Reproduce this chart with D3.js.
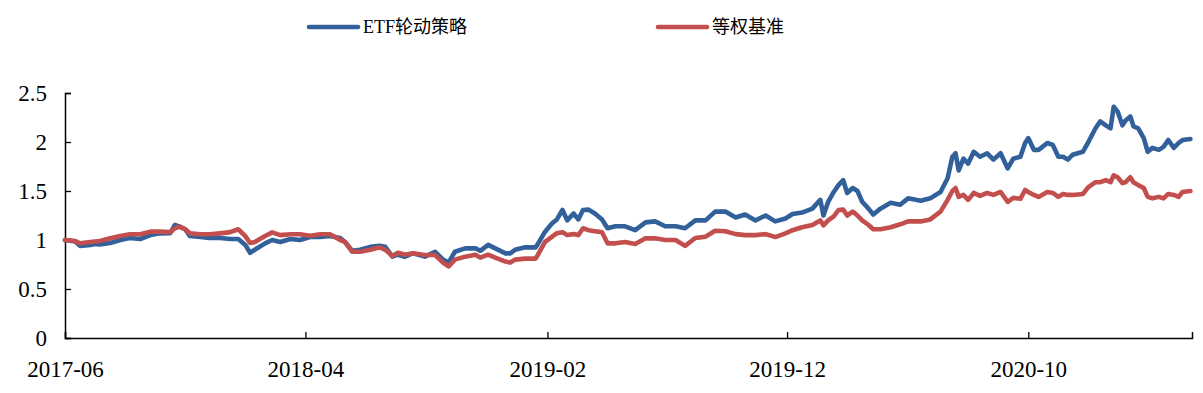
<!DOCTYPE html>
<html>
<head>
<meta charset="utf-8">
<script src="https://cdn.jsdelivr.net/npm/d3@7"></script>
<style>
  body { margin: 0; background: #fff; }
  svg { display: block; }
</style>
</head>
<body>
<script>
var dates = ["2017-06-01","2017-06-14","2017-06-20","2017-07-03","2017-07-09","2017-07-15","2017-07-28","2017-08-10","2017-08-22","2017-09-04",
  "2017-09-17","2017-09-29","2017-10-12","2017-10-18","2017-10-24","2017-10-31","2017-11-06","2017-11-19","2017-12-01","2017-12-14",
  "2017-12-27","2018-01-06","2018-01-15","2018-01-21","2018-01-27","2018-02-09","2018-02-18","2018-02-28","2018-03-13","2018-03-25",
  "2018-04-07","2018-04-20","2018-05-02","2018-05-15","2018-05-21","2018-05-30","2018-06-09","2018-06-22","2018-07-04","2018-07-11",
  "2018-07-20","2018-07-27","2018-08-05","2018-08-15","2018-08-30","2018-09-12","2018-09-22","2018-09-29","2018-10-07","2018-10-20",
  "2018-11-02","2018-11-08","2018-11-18","2018-11-27","2018-12-10","2018-12-16","2018-12-22","2019-01-04","2019-01-17","2019-01-20",
  "2019-01-29","2019-02-07","2019-02-13","2019-02-20","2019-02-26","2019-03-06","2019-03-12","2019-03-18","2019-03-25","2019-04-02",
  "2019-04-11","2019-04-18","2019-04-28","2019-05-10","2019-05-23","2019-06-05","2019-06-17","2019-06-30","2019-07-13","2019-07-25",
  "2019-08-07","2019-08-20","2019-09-01","2019-09-14","2019-09-27","2019-10-09","2019-10-22","2019-11-04","2019-11-16","2019-11-29",
  "2019-12-08","2019-12-20","2020-01-02","2020-01-12","2020-01-16","2020-01-22","2020-01-29","2020-02-04","2020-02-10","2020-02-15",
  "2020-02-22","2020-02-28","2020-03-05","2020-03-13","2020-03-19","2020-03-28","2020-04-10","2020-04-22","2020-05-02","2020-05-18",
  "2020-05-30","2020-06-12","2020-06-21","2020-06-27","2020-07-01","2020-07-05","2020-07-11","2020-07-17","2020-07-24","2020-08-01",
  "2020-08-10","2020-08-18","2020-08-27","2020-09-05","2020-09-12","2020-09-21","2020-09-27","2020-10-01","2020-10-08","2020-10-14",
  "2020-10-25","2020-11-01","2020-11-08","2020-11-14","2020-11-20","2020-11-26","2020-12-09","2020-12-16","2020-12-25","2020-12-31",
  "2021-01-07","2021-01-13","2021-01-17","2021-01-22","2021-01-28","2021-02-01","2021-02-07","2021-02-11","2021-02-17","2021-02-24",
  "2021-03-01","2021-03-07","2021-03-15","2021-03-21","2021-03-27","2021-04-03","2021-04-09","2021-04-14","2021-04-24"];

var etf = [1.00,0.985,0.94,0.95,0.96,0.955,0.97,1.00,1.02,1.01,
  1.05,1.068,1.07,1.153,1.136,1.11,1.04,1.03,1.02,1.02,
  1.01,1.01,0.95,0.87,0.90,0.966,1.00,0.98,1.01,1.00,
  1.03,1.03,1.04,1.02,0.98,0.89,0.90,0.93,0.94,0.93,
  0.83,0.85,0.83,0.865,0.83,0.88,0.80,0.77,0.88,0.915,
  0.915,0.89,0.95,0.915,0.864,0.864,0.90,0.925,0.925,0.96,
  1.085,1.17,1.21,1.306,1.20,1.27,1.21,1.306,1.31,1.27,
  1.21,1.12,1.14,1.14,1.10,1.18,1.19,1.14,1.14,1.12,
  1.20,1.20,1.29,1.29,1.23,1.26,1.20,1.25,1.19,1.22,
  1.265,1.28,1.32,1.41,1.25,1.39,1.49,1.56,1.61,1.48,
  1.53,1.50,1.39,1.32,1.26,1.32,1.38,1.36,1.425,1.40,
  1.425,1.49,1.63,1.85,1.885,1.71,1.83,1.78,1.90,1.85,
  1.885,1.82,1.885,1.73,1.83,1.85,1.99,2.04,1.92,1.92,
  1.99,1.97,1.85,1.85,1.82,1.87,1.90,2.00,2.14,2.21,
  2.17,2.14,2.36,2.31,2.17,2.22,2.26,2.16,2.14,2.04,
  1.90,1.94,1.92,1.95,2.02,1.94,1.99,2.02,2.03];

var bench = [1.00,0.99,0.966,0.98,0.985,0.99,1.017,1.04,1.058,1.058,
  1.085,1.085,1.08,1.12,1.136,1.11,1.068,1.058,1.058,1.068,
  1.08,1.11,1.04,0.97,0.98,1.04,1.078,1.05,1.058,1.058,
  1.044,1.058,1.058,1.00,0.98,0.88,0.88,0.90,0.925,0.90,
  0.837,0.87,0.85,0.865,0.847,0.847,0.77,0.73,0.80,0.83,
  0.85,0.82,0.85,0.82,0.78,0.77,0.80,0.81,0.81,0.85,
  0.98,1.034,1.07,1.08,1.05,1.06,1.05,1.12,1.10,1.09,
  1.08,0.966,0.966,0.98,0.96,1.017,1.017,1.00,1.00,0.94,
  1.02,1.034,1.095,1.09,1.06,1.05,1.05,1.06,1.03,1.068,
  1.10,1.13,1.153,1.20,1.15,1.20,1.24,1.306,1.31,1.25,
  1.29,1.25,1.20,1.153,1.11,1.11,1.13,1.16,1.19,1.19,
  1.21,1.29,1.41,1.50,1.53,1.44,1.46,1.41,1.48,1.45,
  1.48,1.46,1.49,1.39,1.43,1.42,1.51,1.49,1.46,1.44,
  1.49,1.48,1.44,1.47,1.46,1.46,1.47,1.54,1.59,1.59,
  1.61,1.59,1.66,1.64,1.58,1.59,1.64,1.59,1.56,1.53,
  1.44,1.425,1.44,1.425,1.47,1.46,1.44,1.49,1.50];

var seriesNames = ["ETF轮动策略", "等权基准"];
var seriesColors = ["#31609B", "#C24F4D"];
var xTicks = ["2017-06-01","2018-04-01","2019-02-01","2019-12-01","2020-10-01"];
var yTicks = [0, 0.5, 1, 1.5, 2, 2.5];

var width = 1203, height = 393;
var parse = d3.timeParse("%Y-%m-%d");

var svg = d3.select("body").append("svg")
  .attr("width", width).attr("height", height);

var x = d3.scaleTime()
  .domain([parse("2017-06-01"), parse("2021-04-26")])
  .range([65, 1192]);
var y = d3.scaleLinear().domain([0, 2.5]).range([338, 93]);

var fontFamily = "'Liberation Serif', 'Times New Roman', serif";

// y axis, ticks point into the plot
var yAxis = svg.append("g")
  .attr("transform", "translate(65,0)")
  .call(d3.axisRight(y).tickValues(yTicks).tickSize(6).tickFormat(function(d){ return String(d); }));
yAxis.selectAll("text").attr("x", -18).attr("text-anchor", "end");

// x axis
var xAxis = svg.append("g")
  .attr("transform", "translate(0,338)")
  .call(d3.axisTop(x).tickValues(xTicks.map(parse)).tickSize(6).tickFormat(d3.timeFormat("%Y-%m")));
xAxis.selectAll("text").attr("y", 32).attr("dy", "0.32em");

svg.selectAll(".domain").attr("stroke", "#000").attr("stroke-width", 1.5);
svg.selectAll(".tick line").attr("stroke", "#000").attr("stroke-width", 1.3);
svg.selectAll(".tick text")
  .attr("fill", "#000")
  .style("font-family", fontFamily)
  .style("font-size", "23px");

var line = d3.line()
  .x(function(d){ return x(d.date); })
  .y(function(d){ return y(d.value); });

[etf, bench].forEach(function(vals, i){
  var data = vals.map(function(v, j){ return {date: parse(dates[j]), value: v}; });
  svg.append("path")
    .datum(data)
    .attr("fill", "none")
    .attr("stroke", seriesColors[i])
    .attr("stroke-width", 4.6)
    .attr("stroke-linejoin", "round")
    .attr("stroke-linecap", "round")
    .attr("d", line);
});

// legend
var legendX = [309, 658];
var legend = svg.append("g");
seriesNames.forEach(function(name, i){
  var g = legend.append("g").attr("transform", "translate(" + legendX[i] + ",27)");
  g.append("line")
    .attr("x1", 0).attr("x2", 49)
    .attr("stroke", seriesColors[i])
    .attr("stroke-width", 4.6)
    .attr("stroke-linecap", "round");
  g.append("text")
    .attr("x", 54).attr("dy", "0.35em")
    .attr("fill", "#000")
    .style("font-family", "'Liberation Serif', 'Noto Sans CJK SC', serif")
    .style("font-size", "18px")
    .text(name);
});
</script>
</body>
</html>
